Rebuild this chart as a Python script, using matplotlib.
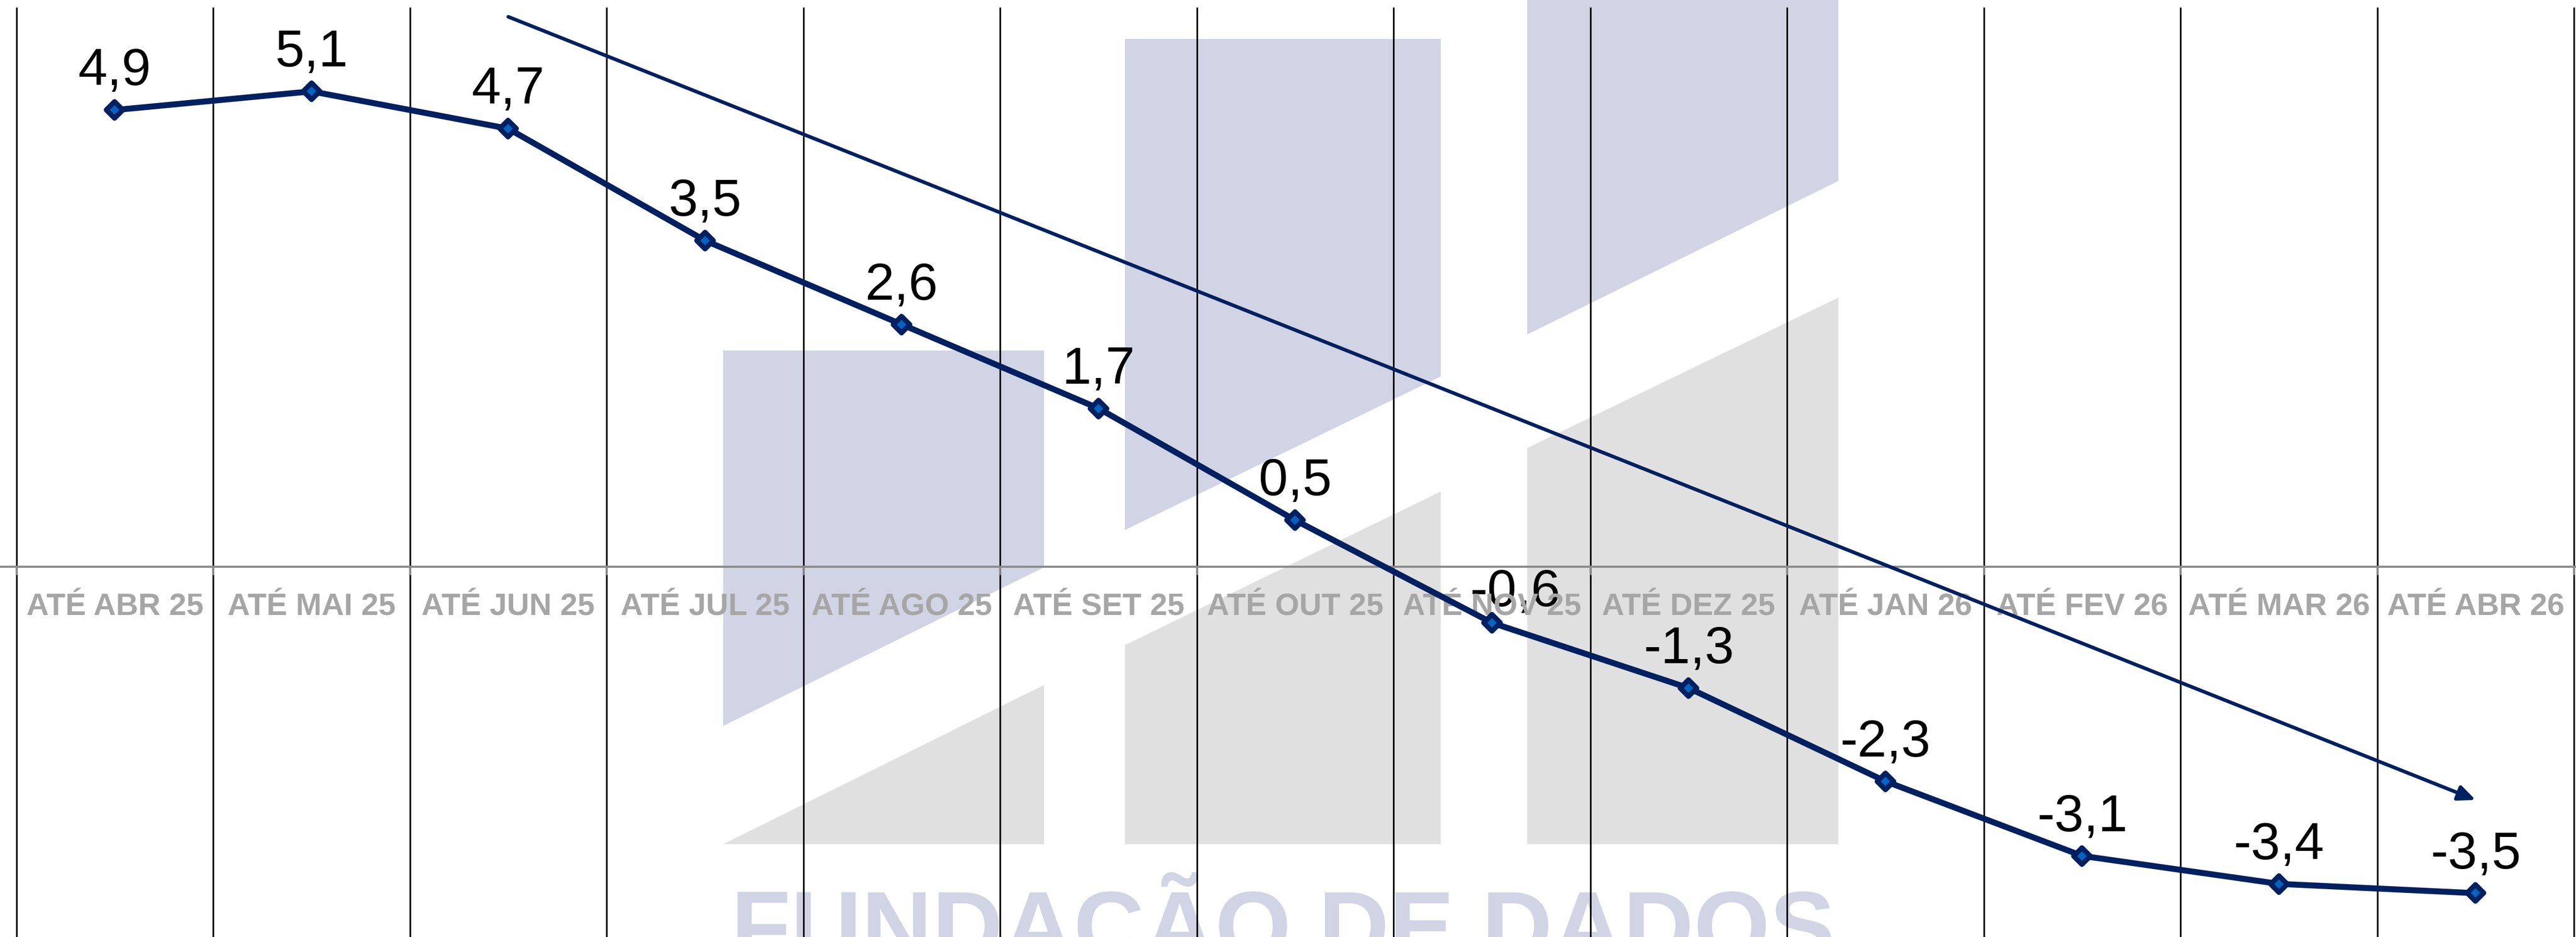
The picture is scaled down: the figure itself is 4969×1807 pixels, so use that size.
import matplotlib
matplotlib.use('Agg')
import matplotlib.pyplot as plt
from matplotlib.patches import Polygon
from matplotlib.markers import MarkerStyle
import numpy as np

# data
categories = ['ATÉ ABR 25', 'ATÉ MAI 25', 'ATÉ JUN 25', 'ATÉ JUL 25', 'ATÉ AGO 25',
              'ATÉ SET 25', 'ATÉ OUT 25', 'ATÉ NOV 25', 'ATÉ DEZ 25', 'ATÉ JAN 26',
              'ATÉ FEV 26', 'ATÉ MAR 26', 'ATÉ ABR 26']
values = [4.9, 5.1, 4.7, 3.5, 2.6, 1.7, 0.5, -0.6, -1.3, -2.3, -3.1, -3.4, -3.5]

W, H = 4969, 1807
DPI = 100
navy = '#002060'
logo_blue = '#D1D4E4'
logo_gray = '#E0E0E0'

fig = plt.figure(figsize=(W / DPI, H / DPI), dpi=DPI)
fig.patch.set_facecolor('white')

# background watermark (pixel coords)
bg = fig.add_axes([0, 0, 1, 1], zorder=0)
bg.set_xlim(0, W)
bg.set_ylim(H, 0)
bg.axis('off')

blue_shapes = [
    [(1395, 676), (2014, 676), (2014, 1094), (1395, 1400)],
    [(2170, 75), (2779, 75), (2779, 726), (2170, 1022)],
    [(2946, 0), (3546, 0), (3546, 349), (2946, 645)],
]
gray_shapes = [
    [(1395, 1628), (2014, 1321), (2014, 1628)],
    [(2170, 1244), (2779, 948), (2779, 1628), (2170, 1628)],
    [(2946, 864), (3546, 574), (3546, 1628), (2946, 1628)],
]
for pts in blue_shapes:
    bg.add_patch(Polygon(pts, closed=True, fc=logo_blue, ec='none'))
for pts in gray_shapes:
    bg.add_patch(Polygon(pts, closed=True, fc=logo_gray, ec='none'))
bg.text(2475, 1851, 'FUNDAÇÃO DE DADOS', ha='center', va='baseline',
        fontsize=136, fontweight='bold', color=logo_blue, family='Liberation Sans')

# main chart
ax = fig.add_axes([0, 0, 1, 1], zorder=1)
ax.patch.set_alpha(0)
ax.set_xlim(-0.5835, 12.51)
ax.set_ylim(-3.97, 6.08)
ax.axis('off')

x = np.arange(len(categories))
bounds = np.arange(len(categories) + 1) - 0.5
ymin = ax.get_ylim()[0]

ax.vlines(bounds, ymin, 6.0, color='black', lw=2.3, zorder=1)
ax.axhline(0, color='#8C8C8C', lw=3, zorder=2)
ax.vlines(bounds, -0.09, 0, color='#8C8C8C', lw=2.6, zorder=2)

for i, cat in enumerate(categories):
    ax.text(i, -0.52, cat, ha='center', va='baseline', fontsize=43,
            fontweight='bold', color='#A6A6A6', family='Liberation Sans', zorder=4)

diamond = MarkerStyle('D', joinstyle='round')
ax.plot(x, values, color=navy, lw=8.3, marker=diamond, ms=16, mfc='#0563C1',
        mec=navy, mew=7, zorder=5, solid_joinstyle='round')

for i, v in enumerate(values):
    lab = f'{v:.1f}'.replace('.', ',')
    off = (0, 34.5)
    if i == 7:
        off = (32, 23)  # this label sits lower/right in the original
    ax.annotate(lab, (i, v), xytext=off, textcoords='offset points',
                ha='center', va='baseline', fontsize=73,
                family='Liberation Sans', color='black', zorder=3)

# trend arrow
ax.annotate('', xy=(12, values[-1] + 1.0), xytext=(2, values[2] + 1.2),
            arrowprops=dict(arrowstyle='-|>,head_length=0.5,head_width=0.22',
                            mutation_scale=40, color=navy, lw=5,
                            shrinkA=0, shrinkB=0), zorder=6)

fig.savefig('out.png', dpi=DPI)
